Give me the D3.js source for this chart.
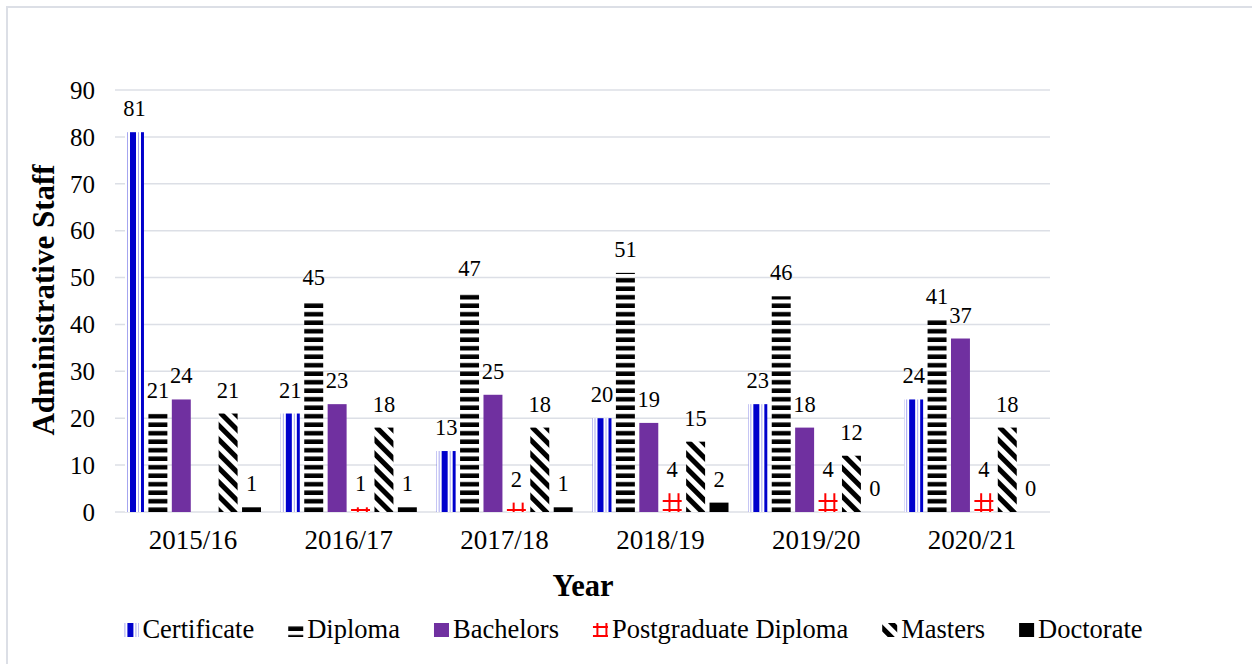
<!DOCTYPE html>
<html>
<head>
<meta charset="utf-8">
<script src="https://cdn.jsdelivr.net/npm/d3@7"></script>
<style>
  body { margin: 0; background: #fff; }
  svg text { font-family: "Liberation Serif", "Times New Roman", serif; fill: #000; }
</style>
</head>
<body>
<svg id="chart" width="1252" height="664"></svg>
<script>
// data
const years = ["2015/16", "2016/17", "2017/18", "2018/19", "2019/20", "2020/21"];
const seriesNames = ["Certificate", "Diploma", "Bachelors", "Postgraduate Diploma", "Masters", "Doctorate"];
const certificate = [81, 21, 13, 20, 23, 24];
const diploma     = [21, 45, 47, 51, 46, 41];
const bachelors   = [24, 23, 25, 19, 18, 37];
const pgDiploma   = [null, 1, 2, 4, 4, 4];
const masters     = [21, 18, 18, 15, 12, 18];
const doctorate   = [1, 1, 1, 2, 0, 0];
const yTicks      = [0, 10, 20, 30, 40, 50, 60, 70, 80, 90];

const values = [certificate, diploma, bachelors, pgDiploma, masters, doctorate];
const fills  = ["url(#pCert)", "url(#pDip)", "#7030a0", "url(#pPg)", "url(#pMas)", "#000"];

const svg = d3.select("#chart");
const defs = svg.append("defs");

// certificate: blue vertical stripes
let p = defs.append("pattern").attr("id", "pCert").attr("patternUnits", "userSpaceOnUse")
  .attr("x", 125).attr("width", 11).attr("height", 10);
p.append("rect").attr("width", 11).attr("height", 10).attr("fill", "#fff");
p.append("rect").attr("width", 6).attr("height", 10).attr("fill", "#0000cc");
p.append("rect").attr("x", 8).attr("width", 1).attr("height", 10).attr("fill", "#a6a6f0");

// diploma: black horizontal stripes
p = defs.append("pattern").attr("id", "pDip").attr("patternUnits", "userSpaceOnUse")
  .attr("y", 512).attr("width", 10).attr("height", 8.5);
p.append("rect").attr("width", 10).attr("height", 8.5).attr("fill", "#fff");
p.append("rect").attr("y", 4).attr("width", 10).attr("height", 4.5).attr("fill", "#000");

// postgraduate diploma: red hash
p = defs.append("pattern").attr("id", "pPg").attr("patternUnits", "userSpaceOnUse")
  .attr("x", 2).attr("y", 2).attr("width", 9).attr("height", 9);
p.append("rect").attr("width", 9).attr("height", 9).attr("fill", "#fff");
p.append("rect").attr("x", 3).attr("width", 2).attr("height", 9).attr("fill", "#ff0000");
p.append("rect").attr("y", 3).attr("width", 9).attr("height", 2).attr("fill", "#ff0000");

// masters: wide diagonal stripes
p = defs.append("pattern").attr("id", "pMas").attr("patternUnits", "userSpaceOnUse")
  .attr("width", 10).attr("height", 10).attr("patternTransform", "rotate(-45)");
p.append("rect").attr("width", 10).attr("height", 10).attr("fill", "#fff");
p.append("rect").attr("width", 5).attr("height", 10).attr("fill", "#000");

// chart border (cropped at right and bottom)
svg.append("path").attr("d", "M7,664V7H1252")
  .attr("fill", "none").attr("stroke", "#dcdfe6").attr("stroke-width", 2);

const x0 = d3.scaleBand().domain(years).range([115, 1050]);
const x1 = d3.scaleBand().domain(seriesNames).range([10, 146]).paddingInner(0.19);
const y  = d3.scaleLinear().domain([0, 90]).range([512, 90]);

// grid
svg.append("g").selectAll("line").data(yTicks).join("line")
  .attr("x1", 115).attr("x2", 1050)
  .attr("y1", d => y(d)).attr("y2", d => y(d))
  .attr("stroke", "#dcdfe6").attr("stroke-width", 1.5);

// y axis labels
const yAxis = svg.append("g").attr("transform", "translate(115,0)")
  .call(d3.axisLeft(y).tickValues(yTicks).tickSize(0).tickPadding(20));
yAxis.select(".domain").remove();
yAxis.selectAll("text").attr("font-size", 25).attr("dy", "0.33em")
  .style("font-family", "'Liberation Serif', serif");

// x axis labels
const xAxis = svg.append("g").attr("transform", "translate(0,512)")
  .call(d3.axisBottom(x0).tickSize(0).tickPadding(18));
xAxis.select(".domain").remove();
xAxis.selectAll("text").attr("font-size", 27)
  .style("font-family", "'Liberation Serif', serif");

// bars
const groups = svg.append("g").selectAll("g").data(years).join("g")
  .attr("transform", d => `translate(${x0(d)},0)`);

groups.each(function(yr, i) {
  const g = d3.select(this);
  seriesNames.forEach((s, k) => {
    const v = values[k][i];
    if (v === null) return;
    g.append("rect")
      .attr("x", x1(s)).attr("width", x1.bandwidth())
      .attr("y", y(v)).attr("height", y(0) - y(v))
      .attr("fill", fills[k]);
    g.append("text")
      .attr("x", x1(s) + x1.bandwidth() / 2).attr("y", y(v) - 16)
      .attr("text-anchor", "middle").attr("font-size", 22.5)
      .text(v);
  });
});

// axis titles
svg.append("text").attr("x", 583).attr("y", 596).attr("text-anchor", "middle")
  .attr("font-size", 30.5).attr("font-weight", "bold").text("Year");
svg.append("text").attr("transform", "translate(54,300) rotate(-90)")
  .attr("text-anchor", "middle").attr("font-size", 31).attr("font-weight", "bold")
  .text("Administrative Staff");

// legend
const legend = svg.append("g");
let lx = 0;
seriesNames.forEach((s, k) => {
  legend.append("rect").attr("x", lx).attr("y", 623).attr("width", 15).attr("height", 14)
    .attr("fill", fills[k]);
  const t = legend.append("text").attr("x", lx + 19).attr("y", 638)
    .attr("font-size", 26.5).text(s);
  lx += 19 + t.node().getComputedTextLength() + 34;
});
lx -= 34;
legend.attr("transform", `translate(${633 - lx / 2},0)`);
</script>
</body>
</html>
